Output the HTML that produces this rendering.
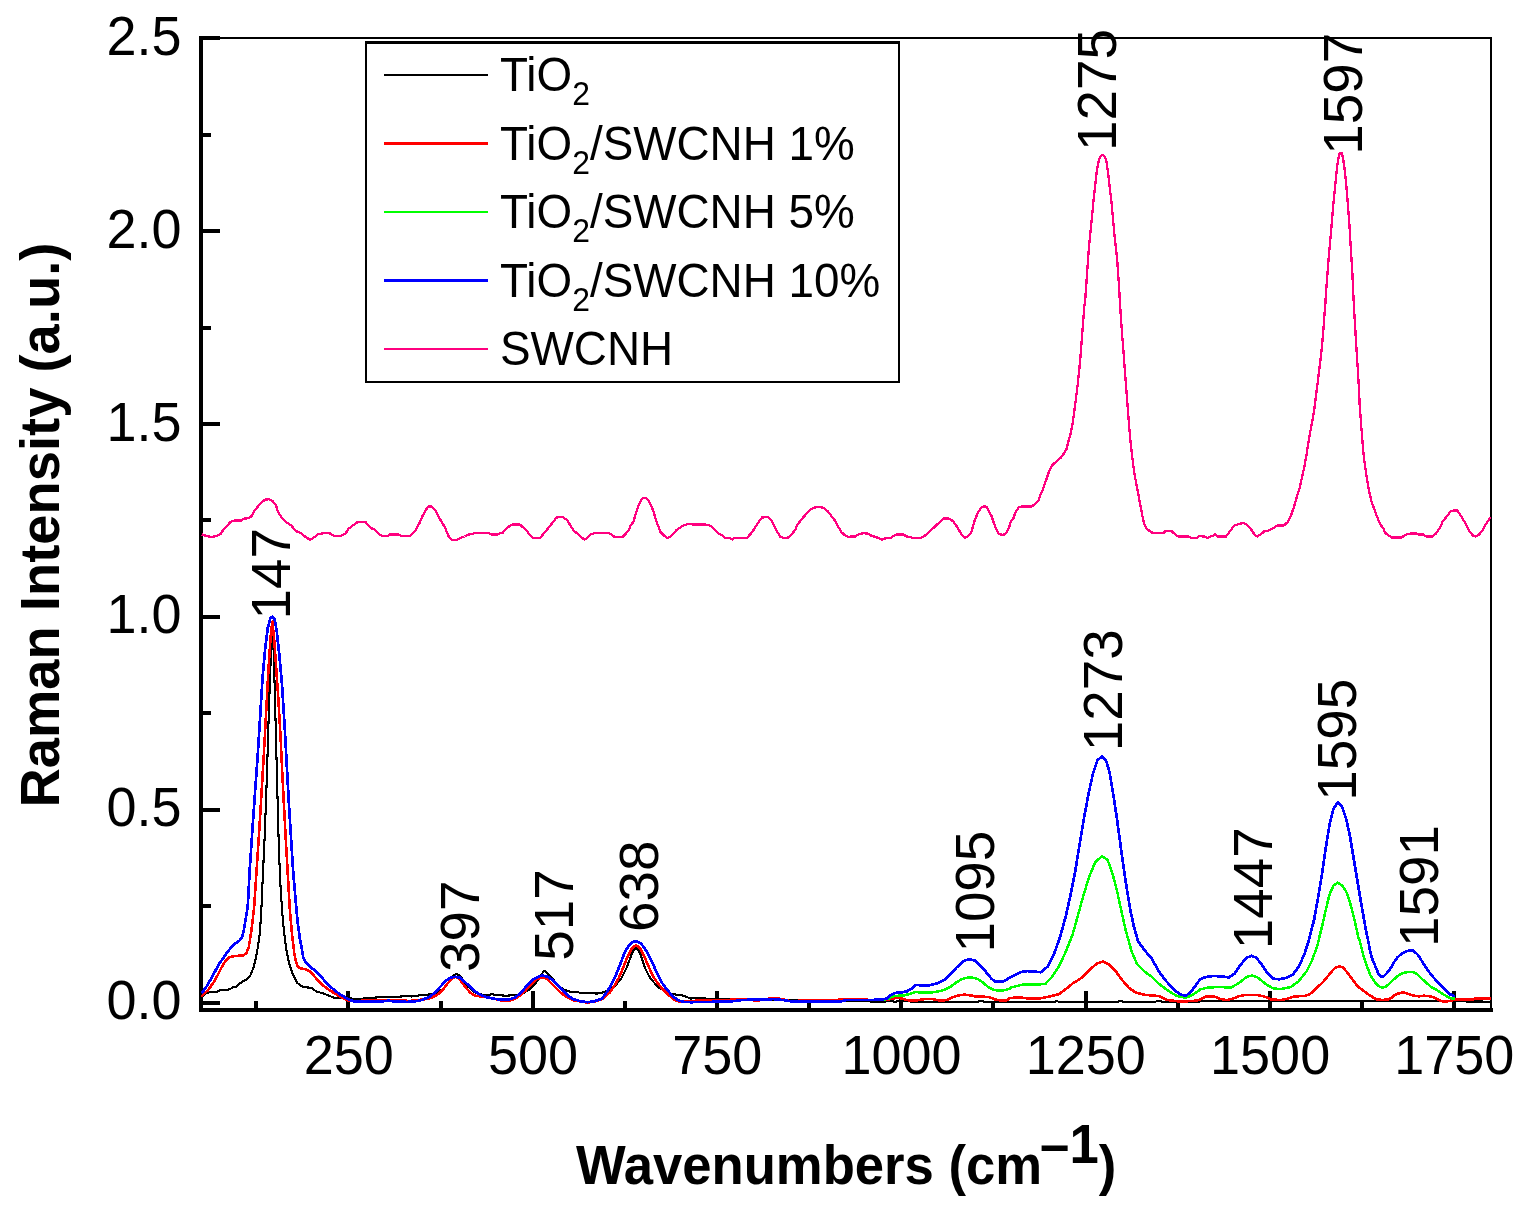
<!DOCTYPE html>
<html lang="en"><head><meta charset="utf-8"><title>Raman spectra of TiO2/SWCNH</title>
<style>html,body{margin:0;padding:0;background:#fff}body{width:1525px;height:1214px;overflow:hidden}svg{display:block}text{font-family:"Liberation Sans",sans-serif;fill:#000}.b{font-weight:bold}</style>
</head><body>
<svg width="1525" height="1214" viewBox="0 0 1525 1214">
<rect width="1525" height="1214" fill="#fff"/>
<g stroke="#000" fill="none" shape-rendering="crispEdges">
<path stroke-width="2" d="M201.3 37.9 H1491.2 V1009.9"/>
<path stroke-width="4" d="M201.3 36.1 V1009.9 H1493.2"/>
<path stroke-width="4" d="M201.3 1002.6 H219.8"/>
<path stroke-width="4" d="M201.3 809.7 H219.8"/>
<path stroke-width="4" d="M201.3 616.8 H219.8"/>
<path stroke-width="4" d="M201.3 423.9 H219.8"/>
<path stroke-width="4" d="M201.3 231.0 H219.8"/>
<path stroke-width="4" d="M201.3 38.1 H219.8"/>
<path stroke-width="4" d="M201.3 906.1 H211.1"/>
<path stroke-width="4" d="M201.3 713.2 H211.1"/>
<path stroke-width="4" d="M201.3 520.4 H211.1"/>
<path stroke-width="4" d="M201.3 327.5 H211.1"/>
<path stroke-width="4" d="M201.3 134.5 H211.1"/>
<path stroke-width="4" d="M348.4 1009.9 V991.4"/>
<path stroke-width="4" d="M532.7 1009.9 V991.4"/>
<path stroke-width="4" d="M717.0 1009.9 V991.4"/>
<path stroke-width="4" d="M901.2 1009.9 V991.4"/>
<path stroke-width="4" d="M1085.5 1009.9 V991.4"/>
<path stroke-width="4" d="M1269.8 1009.9 V991.4"/>
<path stroke-width="4" d="M1454.0 1009.9 V991.4"/>
<path stroke-width="4" d="M256.3 1009.9 V1000.9"/>
<path stroke-width="4" d="M440.6 1009.9 V1000.9"/>
<path stroke-width="4" d="M624.8 1009.9 V1000.9"/>
<path stroke-width="4" d="M809.1 1009.9 V1000.9"/>
<path stroke-width="4" d="M993.4 1009.9 V1000.9"/>
<path stroke-width="4" d="M1177.6 1009.9 V1000.9"/>
<path stroke-width="4" d="M1361.9 1009.9 V1000.9"/>
</g>
<g fill="none" stroke-linejoin="round" stroke-linecap="butt" shape-rendering="crispEdges">
<path stroke="#000000" stroke-width="2.1" d="M201.5 997.4 L205.1 993.8 L209.4 992.0 L216.6 992.0 L220.2 990.2 L229.6 989.4 L233.2 987.0 L236.8 986.6 L240.4 983.0 L244.0 980.8 L247.7 978.6 L250.5 975.0 L253.4 967.8 L255.6 959.1 L257.8 947.6 L259.5 936.1 L260.6 921.6 L261.4 908.7 L262.6 881.1 L264.4 842.8 L265.9 804.4 L267.2 766.1 L268.5 722.7 L269.8 684.3 L271.0 651.1 L272.3 625.6 L273.6 651.1 L274.6 684.3 L275.6 722.7 L276.7 766.1 L277.7 804.4 L278.7 842.8 L280.2 881.1 L282.0 908.7 L283.0 921.6 L284.4 934.6 L286.2 949.0 L288.5 960.6 L290.9 969.2 L293.8 976.5 L297.4 983.0 L303.2 987.3 L311.9 987.7 L316.2 991.6 L322.0 993.0 L327.7 995.2 L334.2 997.7 L340.7 997.8 L347.9 998.1 L353.7 998.8 L362.3 998.8 L366.7 997.8 L376.8 997.5 L380.4 996.7 L388.3 996.7 L392.6 997.4 L397.0 996.7 L402.7 996.4 L407.1 995.6 L411.4 996.4 L411.5 996.5 L417.3 995.7 L423.1 995.0 L430.3 994.3 L437.5 992.9 L443.3 988.5 L449.0 982.0 L453.4 975.5 L456.3 974.1 L459.9 975.5 L463.5 980.6 L467.8 986.4 L473.6 991.4 L479.3 994.3 L486.6 995.0 L492.3 994.3 L498.1 995.3 L506.8 995.7 L515.4 995.0 L522.6 993.6 L529.8 989.2 L535.6 983.5 L539.9 976.3 L544.3 970.8 L548.6 974.1 L552.9 979.1 L557.2 984.2 L563.0 989.2 L568.8 991.4 L576.0 992.1 L584.7 993.3 L593.3 993.3 L597.2 993.6 L604.4 992.1 L610.2 989.2 L616.0 984.9 L621.7 977.7 L626.1 969.0 L630.4 957.5 L633.3 950.3 L636.2 947.4 L639.0 951.0 L641.9 958.2 L644.8 967.6 L649.1 976.3 L653.5 982.0 L659.2 987.8 L665.0 991.4 L670.8 993.6 L676.6 994.7 L682.3 995.3 L691.0 998.6 L696.8 997.9 L704.0 998.2 L709.7 999.3 L719.8 999.3 L734.3 999.3 L748.7 999.1 L763.1 999.3 L777.5 999.6 L792.0 999.6 L807.2 1000.1 L826.0 999.8 L833.2 1000.1 L849.0 1000.8 L864.9 1000.8 L872.1 1001.8 L883.7 1001.8 L889.4 1000.8 L895.2 1001.8 L901.0 1000.8 L915.4 1001.8 L977.4 1001.8 L980.3 1000.8 L984.7 1001.8 L1002.0 1001.8 L1054.4 1002.1 L1056.6 1000.6 L1058.9 1002.1 L1117.8 1002.1 L1120.1 1000.6 L1123.5 1002.1 L1154.1 1002.1 L1158.6 1000.6 L1163.1 1002.1 L1199.4 1002.1 L1200.0 1001.2 L1420.0 1001.2 L1491.1 1001.6"/>
<path stroke="#ff0000" stroke-width="2.6" d="M201.5 996.5 L208.0 990.2 L213.8 982.2 L218.1 974.3 L221.7 967.1 L225.3 961.3 L228.9 957.7 L232.5 956.3 L238.3 955.8 L243.3 955.5 L246.2 953.4 L248.7 947.6 L250.1 939.0 L251.6 928.9 L253.0 917.3 L254.1 907.2 L256.2 876.0 L258.8 837.6 L261.3 796.8 L263.9 753.3 L266.4 707.3 L268.5 669.0 L270.5 638.3 L272.3 621.7 L274.1 638.3 L276.1 666.4 L278.2 697.1 L280.5 735.4 L282.3 773.8 L284.3 812.1 L286.4 850.4 L288.2 881.1 L289.8 908.7 L290.9 921.6 L291.9 933.2 L293.1 943.3 L294.3 953.4 L295.7 960.6 L297.4 965.6 L300.3 968.5 L304.6 969.0 L309.0 970.7 L313.3 975.0 L317.6 980.1 L322.0 984.4 L326.3 988.0 L331.3 991.2 L336.4 994.5 L342.1 997.4 L347.9 1000.3 L353.7 1001.0 L365.2 1000.7 L382.5 1000.7 L388.3 999.8 L399.9 999.8 L405.6 1000.7 L408.7 1001.1 L417.3 1000.1 L426.0 999.1 L433.2 997.2 L439.0 993.6 L443.3 989.2 L447.6 983.5 L451.9 978.4 L455.5 977.0 L459.1 978.4 L462.8 983.5 L466.4 988.5 L470.7 992.9 L475.0 995.7 L480.8 996.5 L486.6 997.2 L493.8 998.6 L501.0 1000.5 L508.2 1000.8 L514.0 999.3 L519.7 995.7 L525.5 990.7 L531.3 984.2 L537.0 979.1 L542.8 977.4 L547.1 979.1 L551.5 983.5 L555.8 987.8 L560.1 992.1 L565.9 996.5 L573.1 1000.1 L580.3 1001.5 L587.5 1002.5 L594.8 1001.5 L602.0 999.3 L604.4 997.2 L610.2 992.1 L614.5 985.6 L618.9 977.7 L623.2 967.6 L627.5 956.8 L631.8 948.1 L636.2 945.2 L640.5 948.9 L644.8 957.5 L649.1 967.6 L653.5 977.0 L657.8 983.5 L662.1 988.5 L667.9 994.3 L673.7 999.3 L679.4 1001.9 L691.0 1001.5 L699.6 1000.1 L712.6 1000.1 L727.0 1000.1 L737.1 999.1 L748.7 999.1 L755.9 1000.8 L763.1 999.8 L773.2 997.9 L781.9 999.1 L792.0 1001.5 L807.2 999.8 L821.6 999.8 L833.2 1000.8 L839.0 999.6 L847.6 998.9 L863.5 998.9 L867.8 999.8 L886.6 999.8 L890.9 999.1 L896.7 997.9 L901.0 998.3 L906.8 1000.1 L914.0 1000.8 L919.7 999.8 L925.5 998.9 L932.7 999.1 L941.4 1000.8 L947.1 999.8 L952.9 997.2 L958.7 995.3 L964.5 994.7 L970.2 995.3 L976.0 996.5 L983.2 996.7 L989.0 997.2 L994.8 999.3 L1002.0 1000.8 L1007.0 1000.2 L1009.1 998.3 L1018.1 997.2 L1029.5 998.7 L1040.8 998.3 L1049.8 996.5 L1058.9 994.2 L1065.7 989.2 L1072.5 983.6 L1081.6 977.9 L1090.6 968.8 L1097.4 963.2 L1103.1 961.6 L1108.8 964.3 L1115.6 971.1 L1122.3 980.2 L1129.1 988.1 L1135.9 992.6 L1145.0 994.9 L1158.6 996.0 L1167.7 1000.1 L1176.7 1001.2 L1188.1 1001.2 L1197.1 1000.6 L1200.0 999.6 L1205.8 996.7 L1213.5 996.3 L1219.3 998.6 L1226.1 1000.2 L1232.9 998.6 L1238.7 996.3 L1246.4 994.8 L1256.1 994.8 L1263.9 996.3 L1271.6 999.6 L1281.3 1000.0 L1289.0 998.3 L1294.8 996.3 L1304.5 996.1 L1310.3 993.8 L1316.1 988.6 L1323.8 981.2 L1331.6 971.6 L1335.4 967.7 L1339.7 966.1 L1343.1 967.7 L1346.3 971.3 L1349.4 975.5 L1352.6 979.7 L1355.7 983.9 L1359.9 988.1 L1364.1 991.3 L1368.3 994.4 L1372.5 997.0 L1376.7 999.5 L1382.0 999.9 L1387.2 999.7 L1391.4 998.1 L1394.6 995.0 L1398.8 993.4 L1403.0 992.3 L1407.1 993.4 L1411.3 995.0 L1415.5 996.0 L1419.7 996.3 L1423.9 995.7 L1428.1 996.0 L1432.3 997.0 L1436.5 998.6 L1440.7 1000.9 L1444.9 1001.6 L1450.2 1000.9 L1455.4 999.7 L1463.8 999.7 L1472.2 999.7 L1475.3 998.6 L1490.0 998.6 L1491.1 999.1"/>
<path stroke="#00ff00" stroke-width="2.5" d="M807.2 1001.8 L839.0 1001.8 L846.2 1000.1 L880.8 999.8 L888.0 999.1 L892.3 996.5 L898.1 995.7 L903.9 995.4 L909.6 994.0 L915.4 992.1 L922.6 992.6 L929.8 992.6 L937.0 991.7 L944.3 990.0 L950.0 987.1 L955.8 982.8 L961.6 979.1 L967.3 977.7 L973.1 977.7 L978.9 979.6 L983.2 982.8 L987.5 986.4 L991.9 989.2 L997.6 990.7 L1003.4 990.4 L1009.2 989.0 L1011.3 987.4 L1022.7 984.7 L1034.0 984.7 L1045.3 984.0 L1052.1 976.8 L1058.9 966.6 L1065.7 951.8 L1072.5 934.9 L1078.2 914.5 L1083.8 894.1 L1089.5 875.9 L1095.2 862.3 L1102.0 856.0 L1107.6 860.1 L1112.2 872.5 L1116.7 889.5 L1121.2 909.9 L1125.7 930.3 L1131.4 950.7 L1137.1 964.3 L1143.9 971.1 L1151.8 976.8 L1158.6 983.6 L1167.7 990.4 L1176.7 996.0 L1185.8 997.8 L1192.6 994.9 L1199.4 990.4 L1200.0 989.4 L1207.7 987.6 L1219.3 987.0 L1231.0 987.6 L1238.7 983.2 L1246.4 977.0 L1252.2 975.4 L1258.0 977.7 L1265.8 984.1 L1273.5 988.6 L1281.3 989.0 L1290.9 987.0 L1298.7 981.2 L1306.4 971.6 L1312.2 959.9 L1317.1 946.4 L1321.9 927.1 L1325.8 909.6 L1329.6 894.2 L1333.5 885.5 L1337.8 882.6 L1342.2 885.5 L1347.1 893.2 L1350.9 905.8 L1354.8 921.2 L1358.7 938.7 L1358.9 937.8 L1361.5 948.3 L1364.1 957.7 L1367.3 967.1 L1370.4 975.5 L1374.6 981.8 L1378.3 986.0 L1382.0 987.6 L1385.1 987.1 L1389.3 983.9 L1393.5 979.7 L1397.7 976.1 L1401.9 973.4 L1406.1 972.4 L1410.3 971.9 L1414.5 972.4 L1418.7 975.5 L1422.9 979.7 L1427.1 983.4 L1431.3 987.1 L1436.5 989.7 L1441.8 993.4 L1447.0 996.5 L1451.2 998.4 L1455.4 998.8"/>
<path stroke="#0000ff" stroke-width="2.7" d="M201.5 993.5 L206.5 986.6 L210.9 978.9 L215.2 971.1 L218.8 964.2 L223.1 958.4 L227.5 951.9 L231.8 946.9 L236.1 942.8 L239.0 941.1 L241.9 937.5 L243.6 931.7 L244.8 924.5 L246.2 915.9 L247.7 907.2 L249.8 868.3 L252.4 830.0 L254.9 794.2 L257.5 758.4 L260.1 717.5 L262.6 676.7 L265.2 648.6 L267.7 628.1 L270.3 618.4 L272.3 616.6 L274.4 618.4 L276.7 630.7 L279.2 653.7 L281.8 681.8 L283.8 712.4 L285.6 743.1 L287.4 776.3 L289.4 812.1 L291.5 845.3 L293.3 873.4 L296.4 908.7 L297.4 920.2 L298.6 928.9 L299.9 939.0 L301.8 949.0 L303.2 957.0 L306.1 962.8 L309.7 966.4 L313.3 969.2 L318.3 973.6 L323.4 979.3 L327.7 984.4 L333.5 989.4 L339.3 993.8 L345.0 997.4 L349.4 999.8 L353.7 1001.3 L368.1 1001.4 L382.5 1001.3 L388.3 1000.7 L394.1 1001.4 L407.2 1001.9 L414.4 1001.5 L421.6 1000.1 L428.9 997.2 L434.6 992.9 L440.4 986.6 L446.2 980.6 L450.5 977.7 L455.5 976.7 L459.9 977.7 L464.9 982.0 L470.7 987.1 L475.0 991.4 L480.8 995.0 L486.6 997.2 L493.8 998.6 L501.0 999.8 L508.2 999.6 L514.0 997.9 L518.3 995.0 L522.6 990.7 L527.0 985.6 L532.7 979.9 L538.5 976.6 L542.8 975.5 L547.1 976.6 L551.5 979.1 L555.8 983.5 L561.6 989.2 L567.3 995.0 L573.1 999.1 L580.3 1001.2 L587.5 1002.2 L594.8 1001.2 L602.0 998.6 L607.3 991.4 L611.6 984.2 L616.0 974.8 L620.3 964.0 L624.6 952.5 L629.0 945.2 L633.3 941.6 L636.9 941.2 L641.2 943.8 L645.5 949.6 L649.9 957.5 L654.2 966.9 L658.5 976.3 L662.9 984.2 L667.9 990.7 L672.2 995.7 L676.6 999.3 L682.3 1001.8 L691.0 1002.2 L705.4 1001.9 L719.8 1001.8 L734.3 1001.1 L741.5 1000.1 L748.7 999.8 L763.1 999.8 L773.2 999.1 L783.3 1000.1 L792.0 1001.5 L807.2 1001.8 L839.0 1001.8 L846.2 1000.1 L880.8 999.8 L886.6 998.6 L890.9 995.0 L895.2 992.9 L901.0 992.6 L906.8 991.4 L911.1 989.0 L915.4 985.2 L918.3 984.9 L922.6 985.9 L929.8 985.2 L937.0 983.5 L944.3 979.9 L950.0 974.8 L955.8 968.3 L961.6 962.6 L965.9 960.1 L970.2 959.4 L974.6 960.4 L978.9 964.0 L983.2 968.3 L987.5 974.1 L991.9 979.1 L995.5 981.7 L1002.0 981.7 L1006.3 979.9 L1009.1 977.9 L1020.4 972.2 L1027.2 971.1 L1040.8 972.2 L1047.6 966.6 L1054.4 953.0 L1060.0 937.1 L1065.7 916.7 L1070.2 896.3 L1074.8 873.7 L1079.3 846.5 L1083.8 819.3 L1088.4 794.4 L1092.9 774.0 L1097.4 760.4 L1102.0 756.3 L1106.5 761.5 L1109.9 774.0 L1113.3 794.4 L1116.7 817.0 L1120.1 842.0 L1123.5 866.9 L1126.9 889.5 L1130.3 909.9 L1133.7 925.8 L1138.2 941.6 L1145.0 950.7 L1151.8 958.6 L1158.6 971.1 L1165.4 980.2 L1174.5 990.4 L1181.3 994.9 L1185.8 995.6 L1190.3 992.6 L1197.1 983.6 L1200.0 979.3 L1205.8 977.0 L1213.5 976.0 L1221.3 976.4 L1229.0 977.4 L1234.8 973.5 L1240.6 964.8 L1246.4 958.0 L1251.3 955.7 L1256.1 957.6 L1261.9 964.8 L1267.7 973.5 L1273.5 978.7 L1279.3 979.3 L1287.1 977.7 L1292.9 974.5 L1298.7 966.7 L1304.5 954.1 L1309.3 938.7 L1314.2 919.3 L1318.0 898.0 L1321.9 874.8 L1325.8 847.7 L1329.6 824.5 L1333.5 809.0 L1337.8 802.3 L1342.2 807.1 L1346.1 818.7 L1350.0 836.1 L1353.8 859.3 L1357.7 882.6 L1361.6 905.8 L1365.4 927.1 L1369.3 946.4 L1369.9 950.4 L1372.5 959.8 L1375.7 967.1 L1378.3 973.4 L1380.9 976.4 L1383.5 976.4 L1386.7 973.4 L1390.4 968.7 L1393.5 963.0 L1397.2 957.7 L1400.9 954.3 L1405.0 951.9 L1409.2 950.4 L1412.9 950.6 L1416.6 953.5 L1419.7 957.2 L1422.9 963.0 L1427.1 969.2 L1431.3 975.0 L1436.5 980.8 L1441.8 986.0 L1447.0 991.3 L1450.2 994.4 L1454.4 996.0 L1455.4 996.0"/>
<path stroke="#ff007f" stroke-width="2.3" d="M201.8 534.4 L206.9 536.2 L212.0 537.0 L217.2 535.6 L220.6 533.9 L224.0 528.8 L227.4 525.4 L230.8 521.7 L234.2 520.5 L241.0 520.5 L244.4 518.6 L248.7 518.2 L252.1 515.7 L253.8 511.4 L258.1 506.3 L262.3 501.5 L265.8 499.5 L269.2 499.3 L272.6 501.0 L276.0 505.3 L277.7 511.4 L282.0 518.2 L287.1 522.9 L291.3 525.4 L293.9 528.8 L297.3 531.7 L301.6 533.4 L305.8 537.3 L310.1 539.6 L314.3 537.3 L317.8 534.4 L322.9 533.3 L329.7 533.3 L334.8 536.2 L340.8 536.2 L345.9 533.1 L348.4 528.8 L353.6 524.9 L357.8 522.0 L365.5 522.0 L370.6 528.0 L374.0 529.3 L379.1 534.4 L382.5 536.2 L387.7 536.2 L390.2 534.4 L398.7 534.4 L401.3 536.2 L409.8 536.2 L412.4 533.9 L415.8 530.0 L420.0 522.0 L422.6 515.7 L426.9 508.4 L429.4 506.1 L432.0 506.7 L435.4 510.1 L439.7 518.6 L444.8 527.1 L448.2 535.6 L451.6 539.6 L453.4 539.9 L457.7 539.6 L460.2 537.9 L464.5 536.5 L467.9 534.8 L472.2 533.9 L474.7 533.1 L488.4 533.1 L490.9 534.4 L497.7 534.4 L500.3 533.1 L502.9 532.6 L505.4 529.3 L508.8 526.6 L512.2 524.6 L519.9 524.6 L523.3 527.6 L526.7 530.5 L529.3 534.4 L532.7 537.9 L540.4 537.9 L542.9 534.4 L546.3 530.5 L549.7 526.3 L553.1 522.0 L556.6 517.4 L562.5 517.1 L566.8 519.8 L569.3 523.7 L571.9 528.0 L574.5 531.4 L577.9 533.9 L581.3 537.3 L584.7 539.6 L588.1 537.3 L590.7 534.4 L594.1 533.3 L609.4 533.3 L612.0 535.1 L614.5 536.8 L617.9 537.3 L623.0 536.5 L625.6 533.9 L629.0 529.7 L630.7 525.4 L633.3 522.0 L635.8 513.5 L638.4 505.8 L641.0 500.3 L643.5 497.8 L646.1 498.1 L648.6 500.3 L651.2 505.8 L653.7 511.8 L655.4 518.6 L658.0 525.4 L660.6 532.2 L664.0 535.6 L667.4 537.9 L670.8 536.5 L674.2 533.1 L676.8 529.7 L680.2 527.6 L683.6 525.4 L687.0 524.2 L700.6 524.6 L705.7 524.6 L710.1 525.6 L714.4 529.3 L717.8 533.1 L722.0 535.1 L724.6 537.7 L729.7 537.9 L732.3 539.6 L734.8 537.9 L746.8 537.9 L750.2 534.4 L754.4 528.8 L757.9 522.9 L762.1 517.4 L768.1 517.2 L771.5 520.6 L774.0 525.4 L776.6 530.5 L780.0 536.5 L783.4 537.9 L787.7 537.9 L792.0 533.9 L795.4 529.7 L797.1 524.9 L802.2 518.6 L805.6 514.7 L809.0 510.6 L812.4 508.4 L817.5 506.7 L823.5 507.8 L827.8 511.3 L832.0 516.9 L835.4 521.1 L838.0 526.3 L841.4 532.2 L844.8 535.1 L848.2 536.7 L855.0 536.5 L858.4 534.4 L862.7 533.3 L867.0 533.4 L871.2 535.6 L875.5 537.0 L878.9 538.2 L882.3 539.6 L885.7 538.2 L890.8 537.7 L894.2 535.6 L896.8 534.4 L903.6 534.4 L906.2 536.5 L909.6 536.8 L912.1 537.9 L920.7 537.7 L924.1 536.2 L928.3 532.7 L932.6 528.8 L936.9 524.6 L941.1 521.1 L943.7 518.6 L948.8 518.6 L953.1 521.1 L957.3 527.1 L960.7 533.1 L962.6 535.6 L965.1 537.7 L967.7 536.5 L971.1 532.7 L974.5 521.1 L977.9 512.6 L981.3 507.8 L983.9 506.3 L986.4 506.7 L989.0 511.8 L991.5 516.0 L993.2 521.1 L995.8 528.0 L998.9 533.9 L1001.8 534.8 L1004.3 534.4 L1006.9 532.2 L1009.4 526.3 L1011.1 520.8 L1013.7 517.7 L1015.4 512.3 L1018.8 507.5 L1021.4 506.5 L1031.6 506.5 L1035.0 504.1 L1038.4 501.0 L1040.1 495.6 L1042.7 490.1 L1049.7 469.6 L1052.1 465.5 L1056.3 461.4 L1060.4 458.1 L1064.2 453.1 L1066.5 449.0 L1068.1 442.4 L1070.3 435.0 L1072.4 425.1 L1074.0 413.6 L1075.5 402.0 L1077.2 388.9 L1079.0 372.4 L1080.5 355.9 L1081.8 339.4 L1083.1 323.0 L1084.3 306.5 L1085.2 300.0 L1087.2 271.8 L1088.5 253.3 L1089.9 237.5 L1091.8 219.1 L1093.4 201.9 L1095.1 186.1 L1096.7 171.6 L1098.4 162.4 L1100.0 156.9 L1102.5 154.8 L1105.0 156.9 L1106.6 162.4 L1108.3 174.3 L1109.9 188.8 L1111.6 203.3 L1112.9 217.8 L1114.2 232.3 L1115.9 248.1 L1117.3 261.3 L1118.2 274.4 L1119.1 287.6 L1119.8 300.0 L1120.2 306.5 L1121.3 323.0 L1122.5 339.4 L1123.8 355.9 L1125.0 372.4 L1126.3 388.9 L1127.4 403.7 L1128.4 416.9 L1129.6 431.7 L1130.7 443.2 L1132.0 454.8 L1133.4 466.3 L1134.9 476.2 L1142.4 516.0 L1144.1 523.7 L1146.7 528.8 L1150.1 531.4 L1152.7 532.9 L1163.7 532.9 L1165.4 531.0 L1171.4 531.0 L1174.0 533.4 L1178.2 536.5 L1188.5 536.5 L1191.0 537.7 L1197.0 537.7 L1198.7 536.2 L1204.7 536.5 L1207.2 537.9 L1210.6 536.5 L1213.2 535.6 L1214.9 534.4 L1217.4 536.5 L1218.7 536.5 L1226.0 536.5 L1229.7 531.5 L1234.3 525.6 L1238.0 524.2 L1243.5 522.9 L1247.1 525.1 L1251.7 530.2 L1254.5 534.6 L1257.2 536.5 L1260.9 534.3 L1264.6 531.0 L1268.2 530.6 L1272.8 528.4 L1277.4 525.4 L1283.9 525.4 L1287.5 522.3 L1291.2 515.0 L1294.0 506.7 L1296.7 497.5 L1299.5 488.4 L1304.5 466.3 L1306.5 454.8 L1308.3 443.2 L1310.3 431.7 L1312.4 420.2 L1314.4 408.6 L1316.0 395.5 L1317.7 382.3 L1319.3 369.1 L1321.0 355.9 L1322.3 342.7 L1323.4 329.5 L1324.3 316.4 L1325.4 303.2 L1325.5 300.0 L1326.6 285.0 L1327.9 267.8 L1329.2 252.0 L1330.5 237.5 L1331.8 223.0 L1333.1 207.2 L1334.5 192.7 L1335.8 179.5 L1337.1 166.4 L1338.7 157.1 L1339.7 153.4 L1340.7 152.8 L1341.7 153.2 L1343.0 157.8 L1344.6 169.0 L1345.9 180.9 L1347.2 195.4 L1348.3 209.9 L1349.4 224.3 L1350.3 240.2 L1351.3 256.0 L1352.3 271.8 L1352.9 285.0 L1353.6 300.0 L1353.9 306.5 L1354.9 323.0 L1355.9 339.4 L1356.9 355.9 L1358.0 372.4 L1358.9 388.9 L1359.7 405.3 L1360.8 420.2 L1362.2 438.3 L1363.5 453.1 L1365.0 466.3 L1368.9 490.2 L1371.4 501.2 L1374.4 509.5 L1377.5 517.7 L1380.2 524.2 L1383.6 528.8 L1384.8 532.4 L1388.5 535.5 L1392.2 537.6 L1401.4 537.6 L1406.0 534.6 L1410.5 533.5 L1416.0 533.5 L1418.8 534.6 L1423.4 534.6 L1426.1 536.5 L1432.6 536.5 L1436.2 533.3 L1439.9 527.8 L1442.7 521.4 L1447.3 515.9 L1450.9 510.8 L1457.4 510.4 L1461.0 515.9 L1465.6 523.6 L1469.3 531.5 L1473.0 535.5 L1475.7 536.6 L1479.4 534.3 L1483.1 529.7 L1484.9 525.1 L1488.6 520.5 L1490.4 517.4"/>
</g>
<g font-size="54">
<text transform="translate(181.5 1019.2) scale(1.0 1.045)" text-anchor="end">0.0</text>
<text transform="translate(181.5 826.3) scale(1.0 1.045)" text-anchor="end">0.5</text>
<text transform="translate(181.5 633.4) scale(1.0 1.045)" text-anchor="end">1.0</text>
<text transform="translate(181.5 440.5) scale(1.0 1.045)" text-anchor="end">1.5</text>
<text transform="translate(181.5 247.6) scale(1.0 1.045)" text-anchor="end">2.0</text>
<text transform="translate(181.5 54.7) scale(1.0 1.045)" text-anchor="end">2.5</text>
<text transform="translate(348.7 1074.0) scale(1.0 1.045)" text-anchor="middle">250</text>
<text transform="translate(533.0 1074.0) scale(1.0 1.045)" text-anchor="middle">500</text>
<text transform="translate(717.3 1074.0) scale(1.0 1.045)" text-anchor="middle">750</text>
<text transform="translate(901.5 1074.0) scale(1.0 1.045)" text-anchor="middle">1000</text>
<text transform="translate(1085.8 1074.0) scale(1.0 1.045)" text-anchor="middle">1250</text>
<text transform="translate(1270.1 1074.0) scale(1.0 1.045)" text-anchor="middle">1500</text>
<text transform="translate(1454.3 1074.0) scale(1.0 1.045)" text-anchor="middle">1750</text>
<text transform="translate(290.0 619.5) rotate(-90) scale(1.015 1.03)">147</text>
<text transform="translate(479.0 971.9) rotate(-90) scale(1.015 1.03)">397</text>
<text transform="translate(573.0 960.8) rotate(-90) scale(1.015 1.03)">517</text>
<text transform="translate(657.6 932.0) rotate(-90) scale(1.015 1.03)">638</text>
<text transform="translate(994.0 952.6) rotate(-90) scale(1.015 1.03)">1095</text>
<text transform="translate(1122.0 751.2) rotate(-90) scale(1.015 1.03)">1273</text>
<text transform="translate(1272.0 949.2) rotate(-90) scale(1.015 1.03)">1447</text>
<text transform="translate(1356.0 800.7) rotate(-90) scale(1.015 1.03)">1595</text>
<text transform="translate(1438.0 946.9) rotate(-90) scale(1.015 1.03)">1591</text>
<text transform="translate(1116.0 151.0) rotate(-90) scale(1.015 1.03)">1275</text>
<text transform="translate(1362.0 154.8) rotate(-90) scale(1.015 1.03)">1597</text>
</g>
<text class="b" font-size="54" transform="translate(576.0 1184.0) scale(0.975 1.03)">Wavenumbers (cm<tspan font-size="54" dx="-2" dy="-20.0">–1</tspan><tspan dx="0" dy="20.0">)</tspan></text>
<text class="b" font-size="54" transform="translate(59.0 807.6) rotate(-90) scale(1.007 1.03)">Raman Intensity (a.u.)</text>
<rect x="366.2" y="42.8" width="533.0" height="339.4" fill="#fff" stroke="#000" stroke-width="2.2" shape-rendering="crispEdges"/>
<path stroke="#000" stroke-width="3" d="M365.1 42.8 H900.3" shape-rendering="crispEdges"/>
<g font-size="46">
<path stroke="#000000" stroke-width="1.8" d="M384.0 75.1 H488.0" shape-rendering="crispEdges"/>
<text transform="translate(500.0 91.1) scale(0.997 1.03)">TiO<tspan font-size="32" dy="13.8">2</tspan></text>
<path stroke="#ff0000" stroke-width="3" d="M384.0 143.6 H488.0" shape-rendering="crispEdges"/>
<text transform="translate(500.0 159.6) scale(0.997 1.03)">TiO<tspan font-size="32" dy="13.8">2</tspan><tspan dy="-13.8">/SWCNH 1%</tspan></text>
<path stroke="#00ff00" stroke-width="2" d="M384.0 212.0 H488.0" shape-rendering="crispEdges"/>
<text transform="translate(500.0 228.0) scale(0.997 1.03)">TiO<tspan font-size="32" dy="13.8">2</tspan><tspan dy="-13.8">/SWCNH 5%</tspan></text>
<path stroke="#0000ff" stroke-width="3" d="M384.0 280.5 H488.0" shape-rendering="crispEdges"/>
<text transform="translate(500.0 296.5) scale(0.997 1.03)">TiO<tspan font-size="32" dy="13.8">2</tspan><tspan dy="-13.8">/SWCNH 10%</tspan></text>
<path stroke="#ff007f" stroke-width="2" d="M384.0 348.9 H488.0" shape-rendering="crispEdges"/>
<text transform="translate(500.0 364.9) scale(0.997 1.03)">SWCNH</text>
</g>
</svg>
</body></html>
